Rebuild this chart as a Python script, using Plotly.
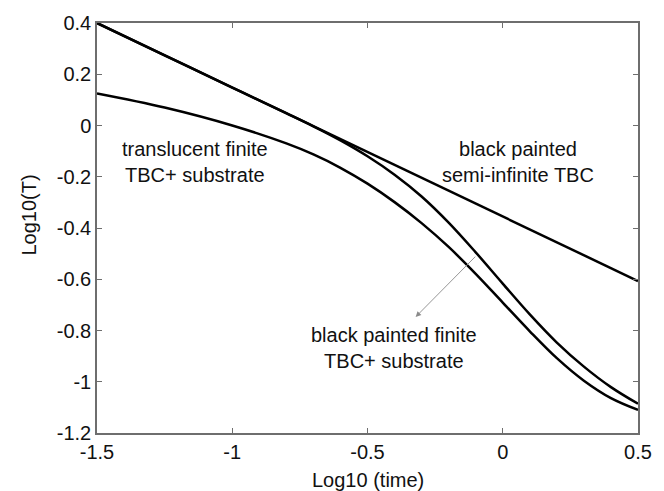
import plotly.graph_objects as go

# Log10 of dimensionless time
log_time = [-1.5, -1.25, -1.0, -0.8, -0.7, -0.6, -0.5, -0.4, -0.3, -0.2,
            -0.1, 0.0, 0.1, 0.2, 0.3, 0.4, 0.5]

# Black painted finite TBC + substrate
black_finite = [0.40, 0.274, 0.148, 0.048, -0.003, -0.058, -0.120, -0.192, -0.277,
                -0.379, -0.495, -0.617, -0.737, -0.847, -0.941, -1.021, -1.086]

# Translucent finite TBC + substrate
translucent_finite = [0.125, 0.07, 0.0, -0.07, -0.113, -0.165, -0.227, -0.299,
                      -0.381, -0.474, -0.579, -0.691, -0.803, -0.908, -0.996, -1.064, -1.110]

# Black painted semi-infinite TBC (straight line in log-log)
semi_time = [-1.5, -1.0, -0.5, 0.0, 0.5]
semi_infinite = [0.40, 0.148, -0.103, -0.355, -0.607]

x_ticks = [-1.5, -1.0, -0.5, 0.0, 0.5]
x_ticktext = ["-1.5", "-1", "-0.5", "0", "0.5"]
y_ticks = [0.4, 0.2, 0.0, -0.2, -0.4, -0.6, -0.8, -1.0, -1.2]
y_ticktext = ["0.4", "0.2", "0", "-0.2", "-0.4", "-0.6", "-0.8", "-1", "-1.2"]

FONT = "Liberation Sans, Arial, sans-serif"
line_style = dict(color="black", width=2.5, shape="spline", smoothing=1.0)

fig = go.Figure()
fig.add_trace(go.Scatter(x=semi_time, y=semi_infinite, mode="lines",
                         line=dict(color="black", width=2.5)))
fig.add_trace(go.Scatter(x=log_time, y=black_finite, mode="lines", line=line_style))
fig.add_trace(go.Scatter(x=log_time, y=translucent_finite, mode="lines", line=line_style))

axis_common = dict(
    showgrid=False, zeroline=False, showline=True, mirror="ticks",
    linecolor="#6e6e6e", linewidth=1.5, ticks="inside", ticklen=5,
    tickcolor="#6e6e6e", tickwidth=1,
    tickfont=dict(family=FONT, size=20, color="#111111"),
)

fig.update_xaxes(range=[-1.5, 0.5], tickvals=x_ticks, ticktext=x_ticktext, **axis_common)
fig.update_yaxes(range=[-1.2, 0.4], tickvals=y_ticks, ticktext=y_ticktext, **axis_common)

label_font = dict(family=FONT, size=20, color="#111111")
annotations = [
    dict(x=-1.138, y=-0.141, xref="x", yref="y", text="translucent finite<br>TBC+ substrate",
         showarrow=False, align="center", font=label_font),
    dict(x=0.0555, y=-0.143, xref="x", yref="y", text="black painted<br>semi-infinite TBC",
         showarrow=False, align="center", font=label_font),
    dict(x=-0.401, y=-0.869, xref="x", yref="y", text="black painted finite<br>TBC+ substrate",
         showarrow=False, align="center", font=label_font),
    # pointer from the black painted finite curve to its label
    dict(x=-0.322, y=-0.747, xref="x", yref="y", ax=-0.096, ay=-0.506,
         axref="x", ayref="y", text="", showarrow=True, arrowhead=2,
         arrowsize=1.2, arrowwidth=0.9, arrowcolor="#8a8a8a"),
    # axis titles
    dict(x=-0.125, y=-0.35, xref="paper", yref="y", text="Log10(T)", textangle=-90,
         showarrow=False, xanchor="center", yanchor="middle", font=label_font),
    dict(x=0.5, y=-0.115, xref="paper", yref="paper", text="Log10 (time)",
         showarrow=False, xanchor="center", yanchor="middle", font=label_font),
]

fig.update_layout(
    width=664, height=491,
    margin=dict(l=97, r=15, t=21, b=58),
    paper_bgcolor="white", plot_bgcolor="white",
    showlegend=False,
    annotations=annotations,
    font=dict(family=FONT),
)

fig.write_html("out.html")
